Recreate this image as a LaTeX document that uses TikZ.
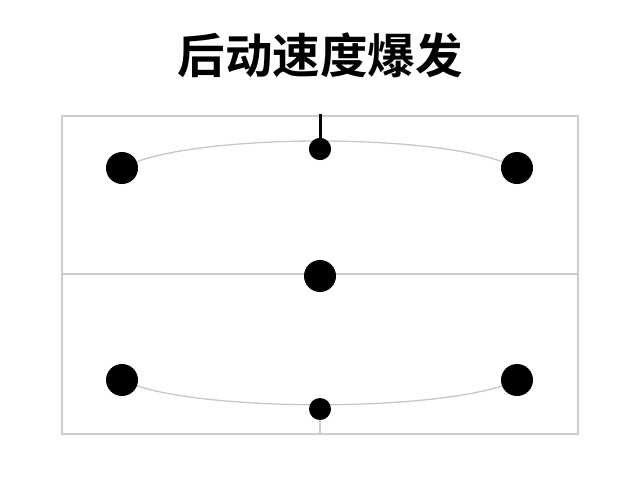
\documentclass[tikz,border=0pt]{standalone}
\usepackage{fontspec}
\newfontfamily\cjk{Noto Sans CJK SC}[BoldFont={Noto Sans CJK SC Bold}]
\pgfdeclarelayer{background}
\pgfsetlayers{background,main}
\begin{document}
\begin{tikzpicture}[x=1pt,y=-1pt,
  bigdot/.style={circle,fill=black,inner sep=0pt,minimum size=32pt},
  smalldot/.style={circle,fill=black,inner sep=0pt,minimum size=22pt},
  frameline/.style={draw=black!20,line width=1.5pt},
  arcline/.style={draw=black!22,line width=1.3pt}]
\useasboundingbox (0,0) rectangle (640,480);
\node[font=\cjk\bfseries\fontsize{47.5}{52}\selectfont] (title) at (320,55) {后动速度爆发};
\coordinate (fTL) at (62,116);
\coordinate (fBR) at (578,434);
\coordinate (mL) at (62,274);
\coordinate (mR) at (578,274);
\coordinate (topT) at (320,114);
\coordinate (botB) at (320,434);
\node[bigdot] (tl) at (122,168) {};
\node[smalldot] (tm) at (320,149) {};
\node[bigdot] (tr) at (517,168) {};
\node[bigdot] (c) at (320,276) {};
\node[bigdot] (bl) at (122,380) {};
\node[smalldot] (bm) at (320,409) {};
\node[bigdot] (br) at (517,380) {};
\begin{pgfonlayer}{background}
\fill[white] (0,0) rectangle (640,480);
\draw[frameline] (fTL) rectangle (fBR);
\draw[frameline] (mL) -- (mR);
\draw[arcline] (tl.center) .. controls (188,132) and (451,132) .. (tr.center);
\draw[arcline] (bl.center) .. controls (188,413) and (451,413) .. (br.center);
\draw[frameline] (bm.center) -- (botB);
\end{pgfonlayer}
\draw[line width=3pt,black] (topT) -- (tm.center);
\node[smalldot] at (tm) {};
\end{tikzpicture}
\end{document}
